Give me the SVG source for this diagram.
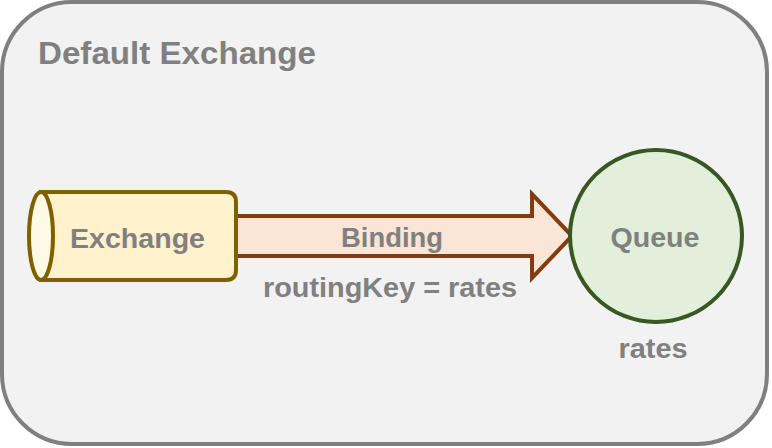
<svg xmlns="http://www.w3.org/2000/svg" width="772" height="448" viewBox="0 0 772 448">
  <style>
    .lbl { font-family: "Liberation Sans", Arial, Helvetica, sans-serif; font-weight: bold; fill: #808080; }
    .mid { text-anchor: middle; }
  </style>
  <g id="default-exchange">
    <rect x="2" y="2" width="765" height="442" rx="70" ry="70" fill="#f2f2f2" stroke="#808080" stroke-width="4"/>
    <text class="lbl" x="38" y="64" font-size="31" textLength="278" lengthAdjust="spacingAndGlyphs">Default Exchange</text>
  </g>
  <g id="connectors">
    <g id="binding">
      <path d="M236,216 L532,216 L532,194 L572,236 L532,278 L532,256 L236,256 Z" fill="#fbe5d6" stroke="#843c0c" stroke-width="4" stroke-linejoin="miter"/>
      <text class="lbl mid" x="392" y="247" font-size="27" textLength="102" lengthAdjust="spacingAndGlyphs">Binding</text>
      <text class="lbl mid" x="390" y="297" font-size="28" textLength="254" lengthAdjust="spacingAndGlyphs">routingKey = rates</text>
    </g>
  </g>
  <g id="exchange">
    <path d="M41,192 L226,192 Q236,192 236,202 L236,270 Q236,280 226,280 L41,280 Z" fill="#fff2cc" stroke="#7f6000" stroke-width="4"/>
    <ellipse cx="41" cy="236" rx="12" ry="44" fill="#fff9e6" stroke="#7f6000" stroke-width="4"/>
    <text class="lbl mid" x="137.5" y="248" font-size="28" textLength="135" lengthAdjust="spacingAndGlyphs">Exchange</text>
  </g>
  <g id="queue">
    <circle cx="656" cy="236" r="86" fill="#e2efda" stroke="#385723" stroke-width="4"/>
    <text class="lbl mid" x="655" y="247" font-size="28" textLength="89" lengthAdjust="spacingAndGlyphs">Queue</text>
    <text class="lbl mid" x="653" y="358" font-size="28" textLength="69" lengthAdjust="spacingAndGlyphs">rates</text>
  </g>
</svg>
